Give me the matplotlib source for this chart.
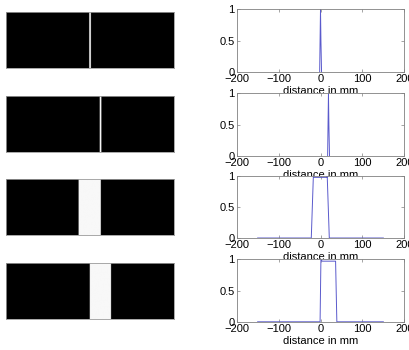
import numpy as np
import matplotlib
matplotlib.use("Agg")
import matplotlib.pyplot as plt

plt.rcParams["font.family"] = ["Liberation Sans", "DejaVu Sans"]
plt.rcParams["font.size"] = 8

# --- profils (distance en mm, intensité) ---
prof_x = [
    [-2, 0, 1, 2.5],
    [17, 19, 20, 21.5],
    [-150, -22, -17, -15, 15, 16, 21, 150],
    [-150, -1, 1, 4, 35, 36, 39, 150],
]
prof_y = [
    [0, 1, 0.5, 0],
    [0, 1, 0.5, 0],
    [0, 0, 1, 0.97, 0.97, 1, 0, 0],
    [0, 0, 1, 0.97, 0.97, 0.97, 0, 0],
]
img_range = (-152, 152)   # étendue des images de fente (mm)
x_ticks = [-200, -100, 0, 100, 200]
y_ticks = [0, 0.5, 1]
x_label = "distance in mm"

W, H = 409, 350
fig = plt.figure(figsize=(W / 100, H / 100), dpi=100)

img_tops = [12, 96, 179, 263]
plot_tops = [9.3, 93.3, 175.5, 259.3]
grid = np.linspace(img_range[0], img_range[1], 1217)

for i in range(4):
    # image de la fente (seuillée : bords nets)
    axi = fig.add_axes([6 / W, 1 - (img_tops[i] + 56) / H, 168 / W, 56 / H])
    row = np.interp(grid, prof_x[i], prof_y[i], left=0, right=0)
    row = np.where(row > 0.25, 1.0, 0.0)
    axi.imshow(np.tile(row, (10, 1)), cmap="gray", vmin=0, vmax=1.03,
               aspect="auto", extent=[img_range[0], img_range[1], 0, 1],
               interpolation="antialiased")
    axi.set_xticks([])
    axi.set_yticks([])
    for s in axi.spines.values():
        s.set_color("#9a9a9a")
        s.set_linewidth(0.6)

    # profil
    ax = fig.add_axes([236.7 / W, 1 - (plot_tops[i] + 62.5) / H, 167.6 / W, 62.5 / H])
    ax.plot(prof_x[i], prof_y[i], color="#5a5acc", lw=0.7)
    ax.set_xlim(-200, 200)
    ax.set_ylim(0, 1)
    ax.set_xticks(x_ticks)
    ax.set_yticks(y_ticks)
    ax.set_yticklabels(["0", "0.5", "1"])
    ax.tick_params(direction="in", top=True, right=True, length=2, width=0.5,
                   color="#808080", pad=1.5, labelsize=8)
    for s in ax.spines.values():
        s.set_color("#808080")
        s.set_linewidth(0.6)
    ax.set_xlabel(x_label, labelpad=1.5)

fig.savefig("out.png", dpi=100)
